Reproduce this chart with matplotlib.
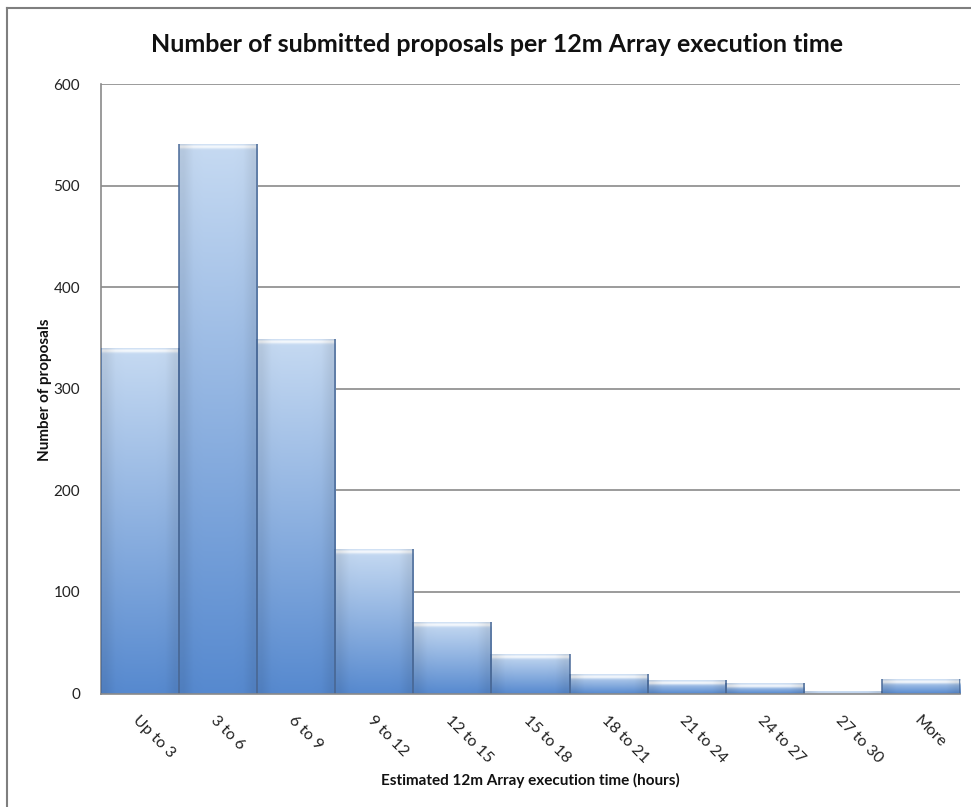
import numpy as np
import matplotlib
matplotlib.use("Agg")
import matplotlib.pyplot as plt
from matplotlib.lines import Line2D
from matplotlib.colors import to_rgb

# Histogram bins and counts
categories = ["Up to 3", "3 to 6", "6 to 9", "9 to 12", "12 to 15", "15 to 18",
              "18 to 21", "21 to 24", "24 to 27", "27 to 30", "More"]
counts = [340, 541, 349, 142, 70, 39, 19, 13, 10, 2, 14]
y_ticks = [0, 100, 200, 300, 400, 500, 600]

plt.rcParams["font.family"] = ["Lato", "DejaVu Sans"]

W, H = 971, 807
fig = plt.figure(figsize=(W / 100, H / 100), dpi=100)
fig.patch.set_facecolor("white")

ax_l, ax_r, ax_b, ax_t = 101, 960, 693.5, 84
ax = fig.add_axes([ax_l / W, 1 - ax_b / H, (ax_r - ax_l) / W, (ax_b - ax_t) / H])
ax.set_xlim(-0.5, len(categories) - 0.5)
ax.set_ylim(0, 600)

px_per_unit = (ax_b - ax_t) / 600.0

light = np.array(to_rgb("#c6daf2"))
dark = np.array(to_rgb("#5689cf"))
white = np.array([1.0, 1.0, 1.0])

for i, h in enumerate(counts):
    hpx = max(h * px_per_unit, 1.0)
    n = max(int(hpx * 2), 4)
    t = np.linspace(1, 0, n)[:, None]          # 1 at top, 0 at bottom
    base = dark + (light - dark) * t
    d_px = (1 - t) * hpx                          # distance from top in pixels
    glow = 0.85 * np.exp(-((d_px - 2.5) / 1.8) ** 2)
    rgb = base * (1 - glow) + white * glow
    img = np.repeat(rgb[:, None, :], 8, axis=1).reshape(n, 8, 3)
    # soft darker shading toward the side edges
    xs = np.linspace(-1, 1, 8)
    side = 1 - 0.08 * (np.abs(xs) ** 6)
    img = img * side[None, :, None]
    ax.imshow(img, extent=(i - 0.5, i + 0.5, 0, h), aspect="auto",
              interpolation="bilinear", zorder=3)
    for xe in (i - 0.5, i + 0.5):
        ax.plot([xe, xe], [0, h], color="#4a6a98", lw=1.1, zorder=4,
                solid_capstyle="butt")

ax.set_xlim(-0.5, len(categories) - 0.5)
ax.set_ylim(0, 600)

for y in y_ticks[1:]:
    ax.axhline(y, color="#8a8a8a", lw=1.2, zorder=1)

for s in ("top", "right"):
    ax.spines[s].set_visible(False)
ax.spines["left"].set_color("#8a8a8a")
ax.spines["left"].set_linewidth(1.2)
ax.spines["bottom"].set_color("#8a8a8a")
ax.spines["bottom"].set_linewidth(1.2)
ax.spines["bottom"].set_zorder(5)

ax.set_yticks(y_ticks)
ax.set_yticklabels([str(v) for v in y_ticks], fontsize=11, color="#222222")
ax.tick_params(axis="y", length=0, pad=15)

ax.set_xticks(range(len(categories)))
ax.set_xticklabels(categories, rotation=-45, ha="left", va="top",
                   rotation_mode="anchor", fontsize=11.5, color="#222222")
ax.tick_params(axis="x", length=0, pad=14)

fig.text(497 / W, 1 - 45 / H, "Number of submitted proposals per 12m Array execution time",
         ha="center", va="center", fontsize=18, fontweight="bold", color="#111111")
fig.text(530 / W, 1 - 780 / H, "Estimated 12m Array execution time (hours)",
         ha="center", va="center", fontsize=11, fontweight="bold", color="#111111")
fig.text(45 / W, 1 - 390 / H, "Number of proposals", rotation=90,
         ha="center", va="center", fontsize=11, fontweight="bold", color="#111111")

# Chart frame
fig.add_artist(Line2D([7 / W, 1], [1 - 8 / H, 1 - 8 / H], transform=fig.transFigure,
                      color="#7f7f7f", lw=1.5))
fig.add_artist(Line2D([7 / W, 7 / W], [0, 1 - 8 / H], transform=fig.transFigure,
                      color="#7f7f7f", lw=1.5))

fig.savefig("out.png", dpi=100, facecolor="white")
